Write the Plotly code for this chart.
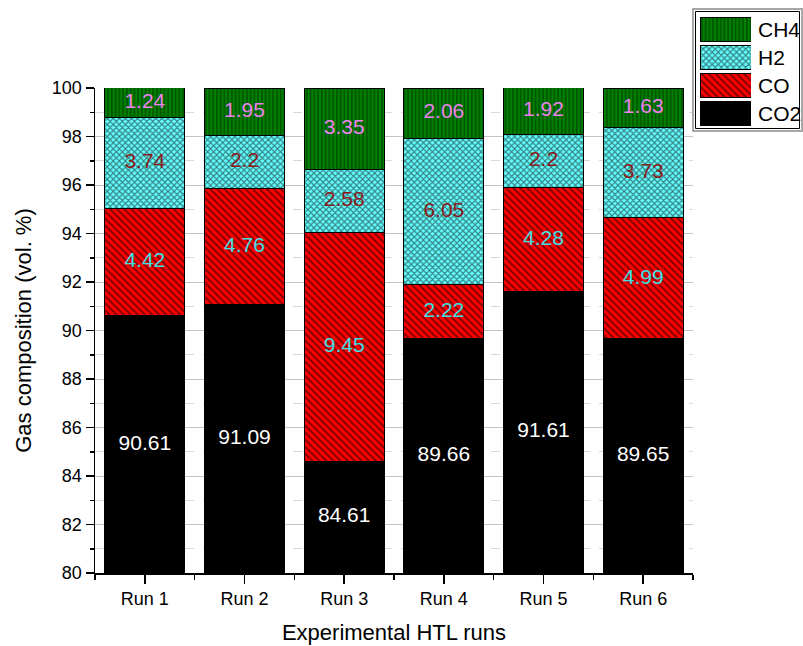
import plotly.graph_objects as go

# ---------------- data ----------------
runs = ["Run 1", "Run 2", "Run 3", "Run 4", "Run 5", "Run 6"]
co2 = [90.61, 91.09, 84.61, 89.66, 91.61, 89.65]
co = [4.42, 4.76, 9.45, 2.22, 4.28, 4.99]
h2 = [3.74, 2.2, 2.58, 6.05, 2.2, 3.73]
ch4 = [1.24, 1.95, 3.35, 2.06, 1.92, 1.63]
series_names = ["CO2", "CO", "H2", "CH4"]      # bottom -> top
series_values = [co2, co, h2, ch4]
y_min, y_max = 80, 100
y_ticks = list(range(80, 101, 2))
x_title = "Experimental HTL runs"
y_title = "Gas composition (vol. %)"

# ---------------- styles ----------------
fills = {"CO2": "#000000", "CO": "#FF0000", "H2": "#66FFFF", "CH4": "#008000"}
shapes = {"CO2": "", "CO": "\\", "H2": "x", "CH4": "|"}
psize = {"CO2": 4, "CO": 5, "H2": 4.3, "CH4": 3.75}
psolid = {"CO2": 0.3, "CO": 0.38, "H2": 0.45, "CH4": 0.3}
label_colors = {"CO2": "#FFFFFF", "CO": "#3FE0E6", "H2": "#8B1A1A", "CH4": "#EE82EE"}
FONT = "Liberation Sans, Arial, sans-serif"

W, H = 803, 646
ML, MR, MT, MB = 95, 0, 0, 73
PW, PH = W - ML - MR, H - MT - MB
def px_x(rx):
    return (rx - ML) / PW
def px_y(ry):
    return (H - MB - ry) / PH

plot_right = 693
plot_top = 88

fig = go.Figure()
xs = list(range(len(runs)))

base = [0.0] * len(runs)
for name, vals in zip(series_names, series_values):
    fig.add_trace(go.Bar(
        x=xs, y=vals, name=name, width=0.8,
        marker=dict(color=fills[name],
                    line=dict(color="black", width=1),
                    pattern=dict(shape=shapes[name], fgcolor="black",
                                 bgcolor=fills[name], size=psize[name],
                                 solidity=psolid[name])),
        showlegend=False, hoverinfo="skip"))
    centers = []
    for i, v in enumerate(vals):
        lo = max(base[i], y_min)
        hi = min(base[i] + v, y_max)
        centers.append((lo + hi) / 2)
        base[i] += v
    fig.add_trace(go.Scatter(
        x=xs, y=centers, mode="text", text=[str(v) for v in vals],
        textfont=dict(size=21, color=label_colors[name], family=FONT),
        showlegend=False, hoverinfo="skip", cliponaxis=False))

# legend swatches on a small hidden axis
for name in series_names:
    fig.add_trace(go.Bar(
        x=[1], y=[name], orientation="h", width=0.857,
        xaxis="x2", yaxis="y2",
        marker=dict(color=fills[name],
                    line=dict(color="black", width=1),
                    pattern=dict(shape=shapes[name], fgcolor="black",
                                 bgcolor=fills[name], size=psize[name],
                                 solidity=psolid[name])),
        showlegend=False, hoverinfo="skip"))
    fig.add_annotation(x=px_x(756), xref="paper", y=name, yref="y2",
                       text=name, showarrow=False, xanchor="left",
                       font=dict(size=21, color="black", family=FONT))

# legend frame
fig.add_shape(type="rect", xref="paper", yref="paper",
              x0=px_x(693), x1=px_x(802), y0=px_y(131), y1=px_y(9),
              line=dict(color="#A8A8A8", width=2), layer="above")
fig.add_shape(type="rect", xref="paper", yref="paper",
              x0=px_x(695.5), x1=px_x(799.5), y0=px_y(128.5), y1=px_y(11.5),
              line=dict(color="#000000", width=1), layer="above")

fig.update_layout(
    width=W, height=H,
    margin=dict(l=ML, r=MR, t=MT, b=MB, autoexpand=False),
    paper_bgcolor="white", plot_bgcolor="white",
    barmode="stack", bargap=0.2,
    font=dict(family=FONT, color="black", size=18),
    xaxis=dict(domain=[0, px_x(plot_right)], range=[-0.5, len(runs) - 0.5],
               tickvals=xs, ticktext=runs, ticks="outside", ticklen=9,
               tickwidth=1.5, tickcolor="black", showgrid=False,
               showline=True, linecolor="black", linewidth=1.5,
               zeroline=False, anchor="y",
               tickfont=dict(size=18),
               minor=dict(tick0=0.5, dtick=1, ticks="outside", ticklen=5,
                          tickwidth=1.5, tickcolor="black", showgrid=False),
               title=dict(text=x_title, font=dict(size=22), standoff=16)),
    yaxis=dict(domain=[0, px_y(plot_top)], range=[y_min, y_max],
               tickvals=y_ticks, ticks="outside", ticklen=8, tickwidth=1.5,
               tickcolor="black", showline=True, linecolor="black",
               linewidth=1.5, zeroline=False, anchor="x",
               showgrid=True, gridcolor="#C4C4C4", gridwidth=1,
               tickfont=dict(size=18),
               minor=dict(dtick=1, tick0=81, ticks="outside", ticklen=4,
                          tickwidth=1.5, tickcolor="black", showgrid=True,
                          gridcolor="#D8D8D8", griddash="dash", gridwidth=1),
               title=dict(text=y_title, font=dict(size=22), standoff=14)),
    xaxis2=dict(domain=[px_x(700), px_x(751)], range=[0, 1], anchor="y2",
                visible=False, fixedrange=True),
    yaxis2=dict(domain=[px_y(127.7), px_y(15.7)], anchor="x2", visible=False,
                type="category", categoryorder="array",
                categoryarray=series_names, range=[-0.5, 3.5],
                fixedrange=True),
)

page_fix = ("document.documentElement.style.overflow='hidden';"
            "document.body.style.margin='0';"
            "document.body.style.overflow='hidden';")
fig.write_html("out.html", post_script=page_fix,
               config={"displayModeBar": False, "staticPlot": True})
